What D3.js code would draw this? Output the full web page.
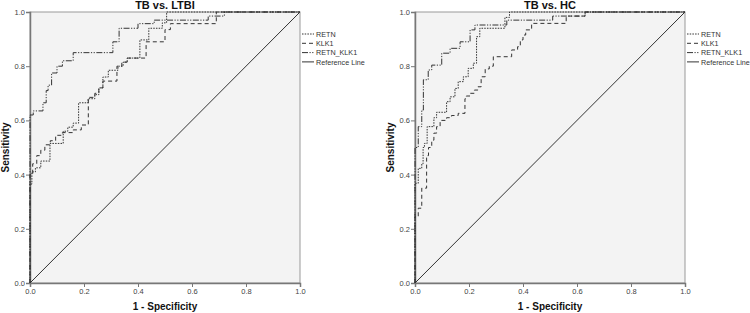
<!DOCTYPE html>
<meta charset="utf-8">
<style>
    body { margin: 0; background: #fff; }
    .tick text { font: 7.5px "Liberation Sans", Arial, sans-serif; fill: #444; }
    .axisTitle { font: bold 10px "Liberation Sans", Arial, sans-serif; text-anchor: middle; fill: #111; }
    .panelTitle { font: bold 11px "Liberation Sans", Arial, sans-serif; text-anchor: middle; fill: #111; }
    .legend text { font: 7.2px "Liberation Sans", Arial, sans-serif; fill: #333; }
</style>
<body>
<script src="https://d3js.org/d3.v7.min.js"></script>
<script>
    // data: [1 - specificity, sensitivity] step vertices
    const ticks = [0, 0.2, 0.4, 0.6, 0.8, 1.0];
    const seriesNames = ["RETN", "KLK1", "RETN_KLK1", "Reference Line"];
    const panelTitles = ["TB vs. LTBI", "TB vs. HC"];

    const ltbiRETN = [[0,0],[0,0.365],[0.007,0.365],[0.007,0.41],[0.02,0.41],[0.02,0.425],[0.04,0.425],[0.04,0.45],[0.074,0.45],[0.074,0.515],[0.123,0.515],[0.123,0.56],[0.14,0.56],[0.14,0.575],[0.16,0.575],[0.16,0.59],[0.18,0.59],[0.18,0.665],[0.215,0.665],[0.215,0.68],[0.24,0.68],[0.24,0.695],[0.255,0.695],[0.255,0.72],[0.27,0.72],[0.27,0.76],[0.29,0.76],[0.29,0.785],[0.326,0.785],[0.326,0.80],[0.345,0.80],[0.345,0.815],[0.36,0.815],[0.36,0.83],[0.407,0.83],[0.407,0.897],[0.44,0.897],[0.44,0.94],[0.49,0.94],[0.49,0.96],[0.506,0.96],[0.506,1],[1,1]];
    const ltbiKLK1 = [[0,0],[0,0.40],[0.01,0.40],[0.01,0.44],[0.025,0.44],[0.025,0.47],[0.04,0.47],[0.04,0.49],[0.055,0.49],[0.055,0.51],[0.075,0.51],[0.075,0.525],[0.095,0.525],[0.095,0.545],[0.12,0.545],[0.12,0.555],[0.16,0.555],[0.16,0.565],[0.19,0.565],[0.19,0.583],[0.216,0.583],[0.216,0.685],[0.24,0.685],[0.24,0.70],[0.255,0.70],[0.255,0.72],[0.27,0.72],[0.27,0.745],[0.322,0.745],[0.322,0.80],[0.34,0.80],[0.34,0.815],[0.36,0.815],[0.36,0.83],[0.43,0.83],[0.43,0.89],[0.50,0.89],[0.50,0.935],[0.52,0.935],[0.52,0.957],[0.69,0.957],[0.69,1],[1,1]];
    const ltbiRETNKLK1 = [[0,0],[0,0.62],[0.012,0.62],[0.012,0.635],[0.048,0.635],[0.048,0.665],[0.06,0.665],[0.06,0.71],[0.067,0.71],[0.067,0.73],[0.08,0.73],[0.08,0.775],[0.1,0.775],[0.1,0.80],[0.12,0.80],[0.12,0.82],[0.16,0.82],[0.16,0.85],[0.307,0.85],[0.307,0.89],[0.33,0.89],[0.33,0.94],[0.40,0.94],[0.40,0.957],[0.46,0.957],[0.46,0.97],[0.66,0.97],[0.66,0.985],[0.72,0.985],[0.72,1],[1,1]];

    const hcRETN = [[0,0],[0,0.368],[0.012,0.368],[0.012,0.423],[0.025,0.423],[0.025,0.44],[0.03,0.44],[0.03,0.50],[0.035,0.50],[0.035,0.515],[0.045,0.515],[0.045,0.577],[0.07,0.577],[0.07,0.61],[0.08,0.61],[0.08,0.63],[0.117,0.63],[0.117,0.669],[0.13,0.669],[0.13,0.687],[0.148,0.687],[0.148,0.718],[0.16,0.718],[0.16,0.743],[0.179,0.743],[0.179,0.761],[0.197,0.761],[0.197,0.792],[0.216,0.792],[0.216,0.811],[0.228,0.811],[0.228,0.909],[0.24,0.909],[0.24,0.94],[0.333,0.94],[0.333,0.98],[0.35,0.98],[0.35,1],[1,1]];
    const hcKLK1 = [[0,0],[0,0.245],[0.012,0.245],[0.012,0.276],[0.025,0.276],[0.025,0.35],[0.043,0.35],[0.043,0.47],[0.05,0.47],[0.05,0.50],[0.062,0.50],[0.062,0.527],[0.07,0.527],[0.07,0.553],[0.08,0.553],[0.08,0.577],[0.093,0.577],[0.093,0.60],[0.117,0.60],[0.117,0.61],[0.135,0.61],[0.135,0.618],[0.16,0.618],[0.16,0.626],[0.185,0.626],[0.185,0.68],[0.19,0.68],[0.19,0.69],[0.204,0.69],[0.204,0.70],[0.22,0.70],[0.22,0.712],[0.233,0.712],[0.233,0.724],[0.245,0.724],[0.245,0.761],[0.26,0.761],[0.26,0.79],[0.275,0.79],[0.275,0.80],[0.29,0.80],[0.29,0.835],[0.358,0.835],[0.358,0.86],[0.38,0.86],[0.38,0.872],[0.39,0.872],[0.39,0.897],[0.40,0.897],[0.40,0.915],[0.41,0.915],[0.41,0.934],[0.432,0.934],[0.432,0.958],[0.56,0.958],[0.56,0.985],[0.63,0.985],[0.63,1],[1,1]];
    const hcRETNKLK1 = [[0,0],[0,0.50],[0.012,0.50],[0.012,0.577],[0.025,0.577],[0.025,0.638],[0.031,0.638],[0.031,0.75],[0.049,0.75],[0.049,0.786],[0.062,0.786],[0.062,0.804],[0.099,0.804],[0.099,0.848],[0.13,0.848],[0.13,0.866],[0.167,0.866],[0.167,0.89],[0.204,0.89],[0.204,0.934],[0.222,0.934],[0.222,0.952],[0.34,0.952],[0.34,0.97],[0.51,0.97],[0.51,0.985],[0.63,0.985],[0.63,1],[1,1]];

    const referenceLine = [[0,0],[1,1]];

    const panels = [
        { title: panelTitles[0], left: 30, curves: [ltbiRETN, ltbiKLK1, ltbiRETNKLK1, referenceLine] },
        { title: panelTitles[1], left: 415, curves: [hcRETN, hcKLK1, hcRETNKLK1, referenceLine] }
    ];

    // line styles per series
    const dashes = ["1.5,1.2", "4,3", "6,1.5,1.2,1.5,1.2,1.5", null];

    let width = 750, height = 313;
    let plotW = 270, plotH = 271, plotTop = 12;

    let svg = d3.select("body").append("svg")
        .attr("width", width)
        .attr("height", height);

    let x = d3.scaleLinear().domain([0, 1]).range([0, plotW]);
    let y = d3.scaleLinear().domain([0, 1]).range([plotH, 0]);

    let line = d3.line()
        .x(function(d){ return x(d[0]); })
        .y(function(d){ return y(d[1]); });

    panels.forEach(function(p){
        let g = svg.append("g").attr("transform", "translate(" + p.left + "," + plotTop + ")");

        g.append("rect")
            .attr("width", plotW)
            .attr("height", plotH)
            .attr("fill", "#f3f3f3")
            .attr("stroke", "#999")
            .attr("stroke-width", 1);

        let yAxis = g.append("g").call(d3.axisLeft(y).tickValues(ticks).tickFormat(d3.format(".1f")).tickSize(4).tickPadding(1));
        let xAxis = g.append("g").attr("transform", "translate(0," + plotH + ")")
            .call(d3.axisBottom(x).tickValues(ticks).tickFormat(d3.format(".1f")).tickSize(4).tickPadding(2));
        [xAxis, yAxis].forEach(function(a){
            a.select(".domain").attr("stroke", "#777").attr("stroke-width", 1.5);
            a.selectAll(".tick line").attr("stroke", "#777");
        });

        p.curves.forEach(function(c, i){
            g.append("path")
                .datum(c)
                .attr("d", line)
                .attr("fill", "none")
                .attr("stroke", "#333")
                .attr("stroke-width", 1)
                .attr("stroke-dasharray", dashes[i]);
        });

        g.append("text").attr("class", "panelTitle")
            .attr("x", plotW / 2).attr("y", -3)
            .text(p.title);

        g.append("text").attr("class", "axisTitle")
            .attr("x", plotW / 2).attr("y", plotH + 27)
            .text("1 - Specificity");

        g.append("text").attr("class", "axisTitle")
            .attr("transform", "translate(-21," + (plotH / 2) + ") rotate(-90)")
            .text("Sensitivity");

        let legend = g.append("g").attr("class", "legend")
            .attr("transform", "translate(" + (plotW + 2) + ",22)");
        seriesNames.forEach(function(name, i){
            let row = legend.append("g").attr("transform", "translate(0," + (i * 9.3) + ")");
            row.append("line")
                .attr("x1", 0).attr("x2", 12)
                .attr("stroke", "#333")
                .attr("stroke-dasharray", dashes[i]);
            row.append("text").attr("x", 14).attr("y", 2.6).text(name);
        });
    });
</script>
</body>
